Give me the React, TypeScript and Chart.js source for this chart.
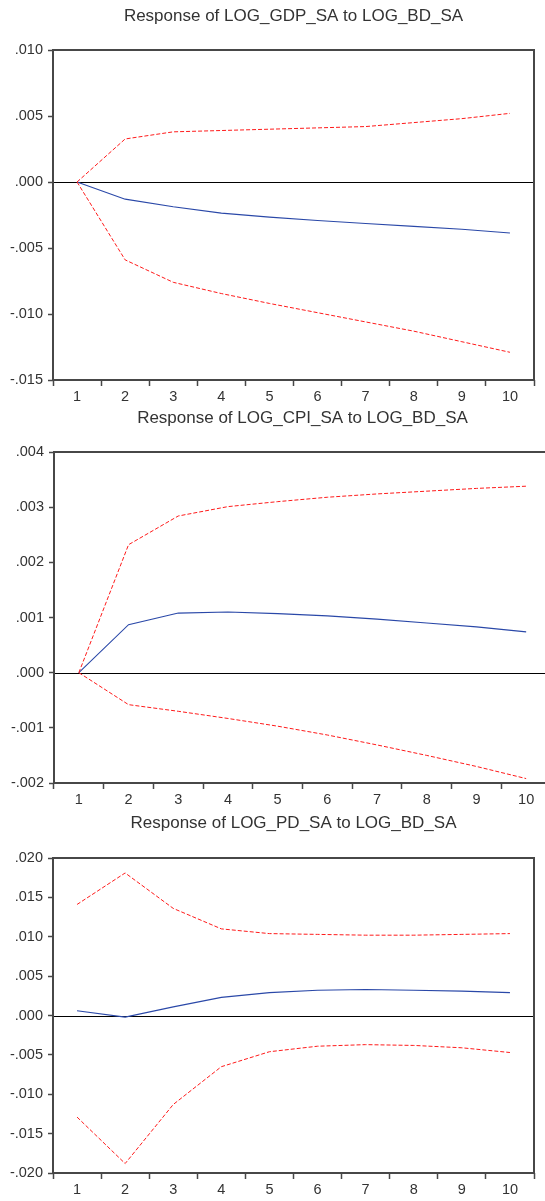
import { useEffect, useRef } from "react";
import { Chart, registerables } from "chart.js";

Chart.register(...registerables);

const periods = ["1", "2", "3", "4", "5", "6", "7", "8", "9", "10"];

const gdpTitle = "Response of LOG_GDP_SA to LOG_BD_SA";
const gdpResponse = [0, -0.0013, -0.00188, -0.00236, -0.00266, -0.00292, -0.00314, -0.00336, -0.00358, -0.00386];
const gdpUpper = [0, 0.00326, 0.0038, 0.0039, 0.004, 0.0041, 0.0042, 0.0045, 0.0048, 0.0052];
const gdpLower = [0, -0.0059, -0.0076, -0.00845, -0.0092, -0.0099, -0.0106, -0.0113, -0.0121, -0.0129];
const gdpAxis = [-0.015, 0.01, 0.005];

const cpiTitle = "Response of LOG_CPI_SA to LOG_BD_SA";
const cpiResponse = [0, 0.00087, 0.00108, 0.0011, 0.00107, 0.00103, 0.00097, 0.0009, 0.00083, 0.00074];
const cpiUpper = [0, 0.00232, 0.00284, 0.00301, 0.0031, 0.00318, 0.00324, 0.00329, 0.00334, 0.00338];
const cpiLower = [0, -0.00058, -0.0007, -0.00083, -0.00097, -0.00113, -0.00131, -0.0015, -0.0017, -0.00192];
const cpiAxis = [-0.002, 0.004, 0.001];

const pdTitle = "Response of LOG_PD_SA to LOG_BD_SA";
const pdResponse = [0.0006, -0.0002, 0.0011, 0.0023, 0.0029, 0.0032, 0.0033, 0.0032, 0.0031, 0.0029];
const pdUpper = [0.0141, 0.0181, 0.0136, 0.011, 0.0104, 0.0103, 0.0102, 0.0102, 0.0103, 0.0104];
const pdLower = [-0.0129, -0.0188, -0.0113, -0.0065, -0.0046, -0.0039, -0.0037, -0.0038, -0.0041, -0.0047];
const pdAxis = [-0.02, 0.02, 0.005];

const FONT = "'Liberation Sans', Arial, sans-serif";
const TEXT = "#333333";
const FRAME = "#474747";

function fmt(v: number): string {
  if (Math.abs(v) < 1e-12) return ".000";
  const s = Math.abs(v).toFixed(3).replace(/^0/, "");
  return (v < 0 ? "-" : "") + s;
}

const decorPlugin = {
  id: "decor",
  beforeDatasetsDraw(chart: any) {
    const { ctx, chartArea } = chart;
    const y = chart.scales.y.getPixelForValue(0);
    ctx.save();
    ctx.strokeStyle = "#000000";
    ctx.lineWidth = 1;
    ctx.beginPath();
    ctx.moveTo(chartArea.left, Math.round(y) + 0.5);
    ctx.lineTo(chartArea.right, Math.round(y) + 0.5);
    ctx.stroke();
    ctx.restore();
  },
  afterDraw(chart: any, _a: any, opts: any) {
    const { ctx, chartArea } = chart;
    ctx.save();
    ctx.strokeStyle = FRAME;
    ctx.lineWidth = 2;
    ctx.strokeRect(chartArea.left, chartArea.top, chartArea.right - chartArea.left, chartArea.bottom - chartArea.top);
    ctx.fillStyle = TEXT;
    ctx.font = `17px ${FONT}`;
    ctx.textAlign = "center";
    ctx.textBaseline = "middle";
    ctx.fillText(opts.text, (chartArea.left + chartArea.right) / 2, opts.y);
    ctx.restore();
  },
};

type PanelProps = {
  title: string;
  response: number[];
  upper: number[];
  lower: number[];
  axis: number[];
  top: number;
  width: number;
  height: number;
  padTop: number;
  padRight: number;
  yWidth: number;
  xHeight: number;
  titleY: number;
};

function Panel(p: PanelProps) {
  const ref = useRef<HTMLCanvasElement | null>(null);
  useEffect(() => {
    if (!ref.current) return;
    const chart = new Chart(ref.current, {
      type: "line",
      data: {
        labels: periods,
        datasets: [
          {
            data: p.upper,
            borderColor: "#ff1a1a",
            borderWidth: 1,
            borderDash: [4, 2],
            pointRadius: 0,
            tension: 0,
          },
          {
            data: p.lower,
            borderColor: "#ff1a1a",
            borderWidth: 1,
            borderDash: [4, 2],
            pointRadius: 0,
            tension: 0,
          },
          {
            data: p.response,
            borderColor: "#2a48a8",
            borderWidth: 1.1,
            pointRadius: 0,
            tension: 0,
          },
        ],
      },
      options: {
        responsive: false,
        animation: false,
        layout: { padding: { top: p.padTop, right: p.padRight, left: 0, bottom: 0 } },
        plugins: {
          legend: { display: false },
          tooltip: { enabled: false },
          decor: { text: p.title, y: p.titleY },
        } as any,
        scales: {
          x: {
            type: "category",
            offset: true,
            grid: {
              offset: true,
              drawOnChartArea: false,
              drawTicks: true,
              tickLength: 6,
              tickColor: FRAME,
              tickWidth: 1.5,
            },
            border: { display: false },
            ticks: {
              color: TEXT,
              font: { family: FONT, size: 14.5 },
              padding: 2,
              maxRotation: 0,
              autoSkip: false,
            },
            afterFit: (s: any) => {
              s.height = p.xHeight;
            },
          },
          y: {
            min: p.axis[0],
            max: p.axis[1],
            grid: {
              drawOnChartArea: false,
              drawTicks: true,
              tickLength: 5,
              tickColor: FRAME,
              tickWidth: 1.5,
            },
            border: { display: false },
            ticks: {
              stepSize: p.axis[2],
              color: TEXT,
              font: { family: FONT, size: 14.5 },
              padding: 5,
              callback: (v: any) => fmt(Number(v)),
            },
            afterFit: (s: any) => {
              s.width = p.yWidth;
            },
          },
        },
      },
      plugins: [decorPlugin],
    });
    return () => chart.destroy();
  }, []);
  return (
    <canvas
      ref={ref}
      width={p.width}
      height={p.height}
      style={{ position: "absolute", left: 0, top: p.top, width: p.width, height: p.height }}
    />
  );
}

export default function App() {
  return (
    <div
      style={{
        position: "absolute",
        left: 0,
        top: 0,
        width: 545,
        height: 1201,
        overflow: "hidden",
        background: "#ffffff",
      }}
    >
      <Panel title={gdpTitle} response={gdpResponse} upper={gdpUpper} lower={gdpLower} axis={gdpAxis}
        top={0} width={545} height={410} padTop={50} padRight={11} yWidth={53} xHeight={30} titleY={16} />
      <Panel title={cpiTitle} response={cpiResponse} upper={cpiUpper} lower={cpiLower} axis={cpiAxis}
        top={410} width={560} height={400} padTop={42} padRight={9} yWidth={54} xHeight={27} titleY={8} />
      <Panel title={pdTitle} response={pdResponse} upper={pdUpper} lower={pdLower} axis={pdAxis}
        top={810} width={545} height={391} padTop={48} padRight={11} yWidth={53} xHeight={28} titleY={13} />
    </div>
  );
}
